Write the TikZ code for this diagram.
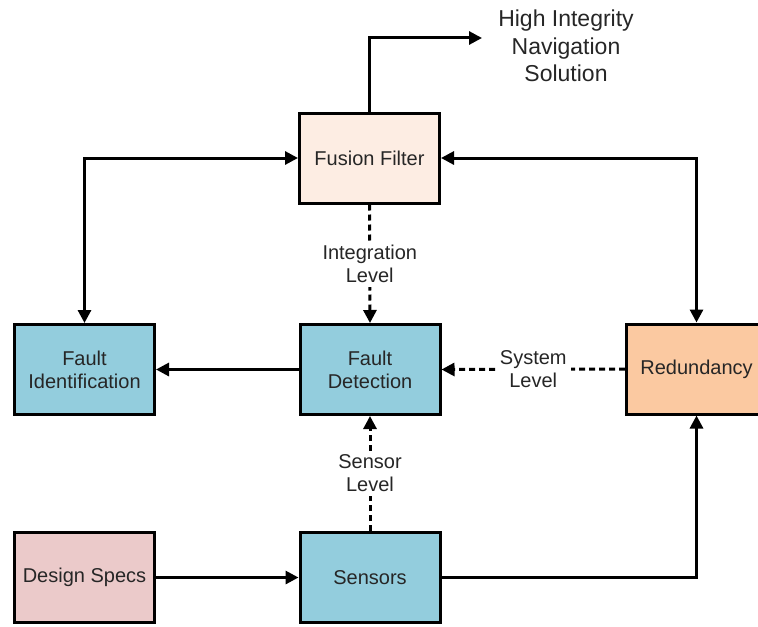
\documentclass[tikz,border=0pt]{standalone}
\usepackage{fontspec}
\setmainfont{Liberation Sans}
\usetikzlibrary{arrows.meta}
\definecolor{azul}{HTML}{93CDDD}
\definecolor{crema}{HTML}{FDEDE3}
\definecolor{naranja}{HTML}{FBC9A1}
\definecolor{rosa}{HTML}{EBCACA}
\definecolor{textogris}{HTML}{262626}
\begin{document}
\begin{tikzpicture}[x=0.5pt, y=-0.5pt,
    caja/.style={draw, line width=1.5pt, minimum width=70pt, minimum height=45pt,
        align=center, text=textogris, inner sep=1pt,
        font=\fontsize{10}{11.5}\selectfont},
    flecha/.style={line width=1.5pt, -{Triangle[length=6.5pt,width=6.5pt]}},
    doble/.style={line width=1.5pt, {Triangle[length=6.5pt,width=6.5pt]}-{Triangle[length=6.5pt,width=6.5pt]}},
    punteada/.style={flecha, dash pattern=on 3pt off 2pt},
    nivel/.style={fill=white, align=center, text=textogris, inner sep=2pt,
        font=\fontsize{10}{11.5}\selectfont}]
    \clip (0,0) rectangle (758,626);
    % Cajas
    \node[caja, fill=crema] (fusion) at (369.5,158) {Fusion Filter};
    \node[caja, fill=azul] (ident) at (84.5,369.5) {Fault\\Identification};
    \node[caja, fill=azul] (detect) at (370,369.5) {Fault\\Detection};
    \node[caja, fill=naranja] (redund) at (696.5,369) {Redundancy};
    \node[caja, fill=rosa] (specs) at (84.5,577.5) {Design Specs};
    \node[caja, fill=azul] (sensors) at (370,577.5) {Sensors};
    % Salida
    \node[align=center, text=textogris, font=\fontsize{11.5}{13.75}\selectfont]
        (sol) at (566,46) {High Integrity\\Navigation\\Solution};
    \coordinate (solin) at (482,38);
    \draw[flecha] (fusion.north) |- (solin);
    % Lazos con el filtro
    \draw[doble] (ident.north) |- (fusion.west);
    \draw[doble] (redund.north) |- (fusion.east);
    % Flechas continuas
    \draw[flecha] (detect.west) -- (ident.east);
    \draw[flecha] (specs.east) -- (sensors.west);
    \draw[flecha] (sensors.east) -| (redund.south);
    % Niveles
    \draw[punteada] (fusion.south) -- node[nivel] {Integration\\Level} (detect.north);
    \draw[punteada] (redund.west) -- node[nivel] {System\\Level} (detect.east);
    \draw[punteada] (sensors.north) -- node[nivel] {Sensor\\Level} (detect.south);
\end{tikzpicture}
\end{document}
